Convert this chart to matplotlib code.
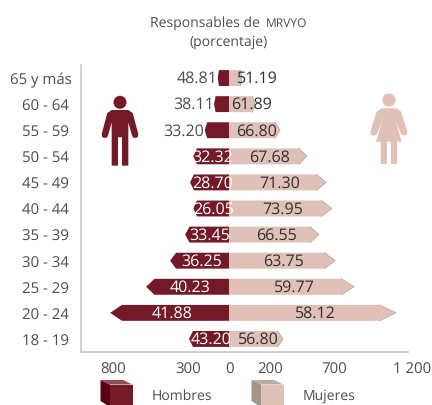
import matplotlib
matplotlib.use("Agg")
import matplotlib.pyplot as plt
from matplotlib.patches import Polygon, Circle
from matplotlib.transforms import ScaledTranslation

plt.rcParams['font.family'] = ['Open Sans', 'DejaVu Sans']
plt.rcParams['text.hinting'] = 'no_hinting'
plt.rcParams['text.hinting_factor'] = 1

age_groups = ["65 y más", "60 - 64", "55 - 59", "50 - 54", "45 - 49", "40 - 44",
              "35 - 39", "30 - 34", "25 - 29", "20 - 24", "18 - 19"]
hombres = [75, 100, 162, 238, 260, 238, 293, 393, 553, 793, 267]
mujeres = [85, 173, 340, 518, 647, 685, 600, 707, 833, 1113, 360]
pct_hombres = ["48.81", "38.11", "33.20", "32.32", "28.70", "26.05", "33.45", "36.25", "40.23", "41.88", "43.20"]
pct_mujeres = ["51.19", "61.89", "66.80", "67.68", "71.30", "73.95", "66.55", "63.75", "59.77", "58.12", "56.80"]
x_tick_labels = ["800", "300", "0", "200", "700", "1 200"]

# layout (pixels / data positions)
W, H = 432, 406
x_tick_pos = [-773, -273, 0, 273, 700, 1220]
label_x_h = [197, 194, 184, 213, 212.5, 213.5, 209.7, 202, 189.7, 172, 211.5]
label_x_m = [257, 252, 257, 270, 280, 283, 276.5, 284, 294, 315, 258.7]
outside_h = 3

MAROON = "#721a28"
ROSE = "#dfc1b8"
GREY = "#4d4d4d"
DARK = "#2e2e2e"
SPINE = "#c4c4c4"

fig = plt.figure(figsize=(W / 100, H / 100), dpi=100)
ax = fig.add_axes([81 / W, 1 - 353 / H, (414 - 81) / W, (353 - 66) / H])
half = 0.305

for i, (h, m) in enumerate(zip(hombres, mujeres)):
    hh = h * 0.1
    hm = m * 0.1
    ax.add_patch(Polygon([(0, i - half), (-(h - hh), i - half), (-h, i), (-(h - hh), i + half), (0, i + half)],
                         closed=True, fc=MAROON, ec="none"))
    ax.add_patch(Polygon([(0, i - half), (m - hm, i - half), (m, i), (m - hm, i + half), (0, i + half)],
                         closed=True, fc=ROSE, ec="none"))
    ax.plot([m - hm, m, m - hm], [i - half, i, i + half], color="#b9a9a4", lw=0.6)

ax.set_yticks(range(len(age_groups)))
ax.set_yticklabels(age_groups, fontsize=11, color=GREY)
ax.set_xticks(x_tick_pos)
ax.set_xticklabels(x_tick_labels, fontsize=11, color=GREY)
ax.set_xlim(-987, 1233)
ax.set_ylim(10.5, -0.5)
ax.tick_params(axis='both', length=0)
ax.tick_params(axis='y', pad=8.5)
ax.tick_params(axis='x', pad=6.5)
for s in ("top", "right"):
    ax.spines[s].set_visible(False)
for s in ("left", "bottom"):
    ax.spines[s].set_color(SPINE)
    ax.spines[s].set_linewidth(1.1)
ax.spines["bottom"].set_bounds(-987, 1193)

first = ax.get_yticklabels()[0]
first.set_transform(first.get_transform() + ScaledTranslation(2.5 / 100, 0, fig.dpi_scale_trans))

# overlay in pixel coordinates
ov = fig.add_axes([0, 0, 1, 1])
ov.set_xlim(0, W)
ov.set_ylim(H, 0)
ov.axis("off")
ov.patch.set_alpha(0)

row_y = [79 + 26.1 * i for i in range(len(age_groups))]
for i, y in enumerate(row_y):
    ov.text(label_x_h[i], y, pct_hombres[i], ha="center", va="center", fontsize=11.5,
            color=GREY if i < outside_h else "white")
    ov.text(label_x_m[i], y, pct_mujeres[i], ha="center", va="center", fontsize=11.5, color=DARK)

# title
ov.text(150, 23, "Responsables de", ha="left", va="center", fontsize=10.3, color=GREY)
ov.text(265.5, 24, "MRVYO", ha="left", va="center", fontsize=8.6, color=GREY)
ov.text(229, 42, "(porcentaje)", ha="center", va="center", fontsize=10.3, color=GREY)

# man icon
man = [(50, 63), (100, 63), (113, 72), (130, 135), (128, 145), (118, 147), (112, 143), (100, 100),
       (100, 230), (81, 230), (81, 145), (69, 145), (69, 230), (50, 230), (50, 100), (38, 143),
       (32, 147), (22, 145), (20, 135), (37, 72)]
ov.add_patch(Polygon([(95 + x / 3, 90 + y / 3) for x, y in man], closed=True, fc=MAROON, ec="none"))
ov.add_patch(Circle((120, 103.3), 6.5, fc=MAROON, ec="none"))

# woman icon
woman = [(50, 58), (95, 58), (108, 68), (127, 128), (125, 138), (115, 140), (108, 135), (92, 95),
         (110, 158), (96, 158), (96, 225), (78, 225), (78, 158), (66, 158), (66, 225), (47, 225),
         (47, 158), (33, 158), (52, 95), (36, 135), (28, 140), (18, 138), (16, 128), (35, 68)]
ov.add_patch(Polygon([(365 + x / 3, 90 + y / 3) for x, y in woman], closed=True, fc=ROSE, ec="none"))
ov.add_patch(Circle((389, 101), 6.6, fc=ROSE, ec="none"))

# legend cubes
def cube(x0, front, side, top):
    ov.add_patch(Polygon([(x0, 381), (x0 + 9.5, 385.5), (x0 + 9.5, 408), (x0, 402)], fc=side, ec="none"))
    ov.add_patch(Polygon([(x0, 381), (x0 + 22.5, 381), (x0 + 32, 385.5), (x0 + 9.5, 385.5)], fc=top, ec="none"))
    ov.add_patch(Polygon([(x0 + 9.5, 385.5), (x0 + 32, 385.5), (x0 + 32, 408), (x0 + 9.5, 408)], fc=front, ec="none"))

cube(100.5, MAROON, "#5a0010", "#8c4d55")
cube(251.5, ROSE, "#a5948c", "#bcaaa3")
ov.text(151.5, 396, "Hombres", ha="left", va="center", fontsize=10.3, color=GREY)
ov.text(303, 396, "Mujeres", ha="left", va="center", fontsize=10.3, color=GREY)

fig.savefig("out.png", dpi=100)
